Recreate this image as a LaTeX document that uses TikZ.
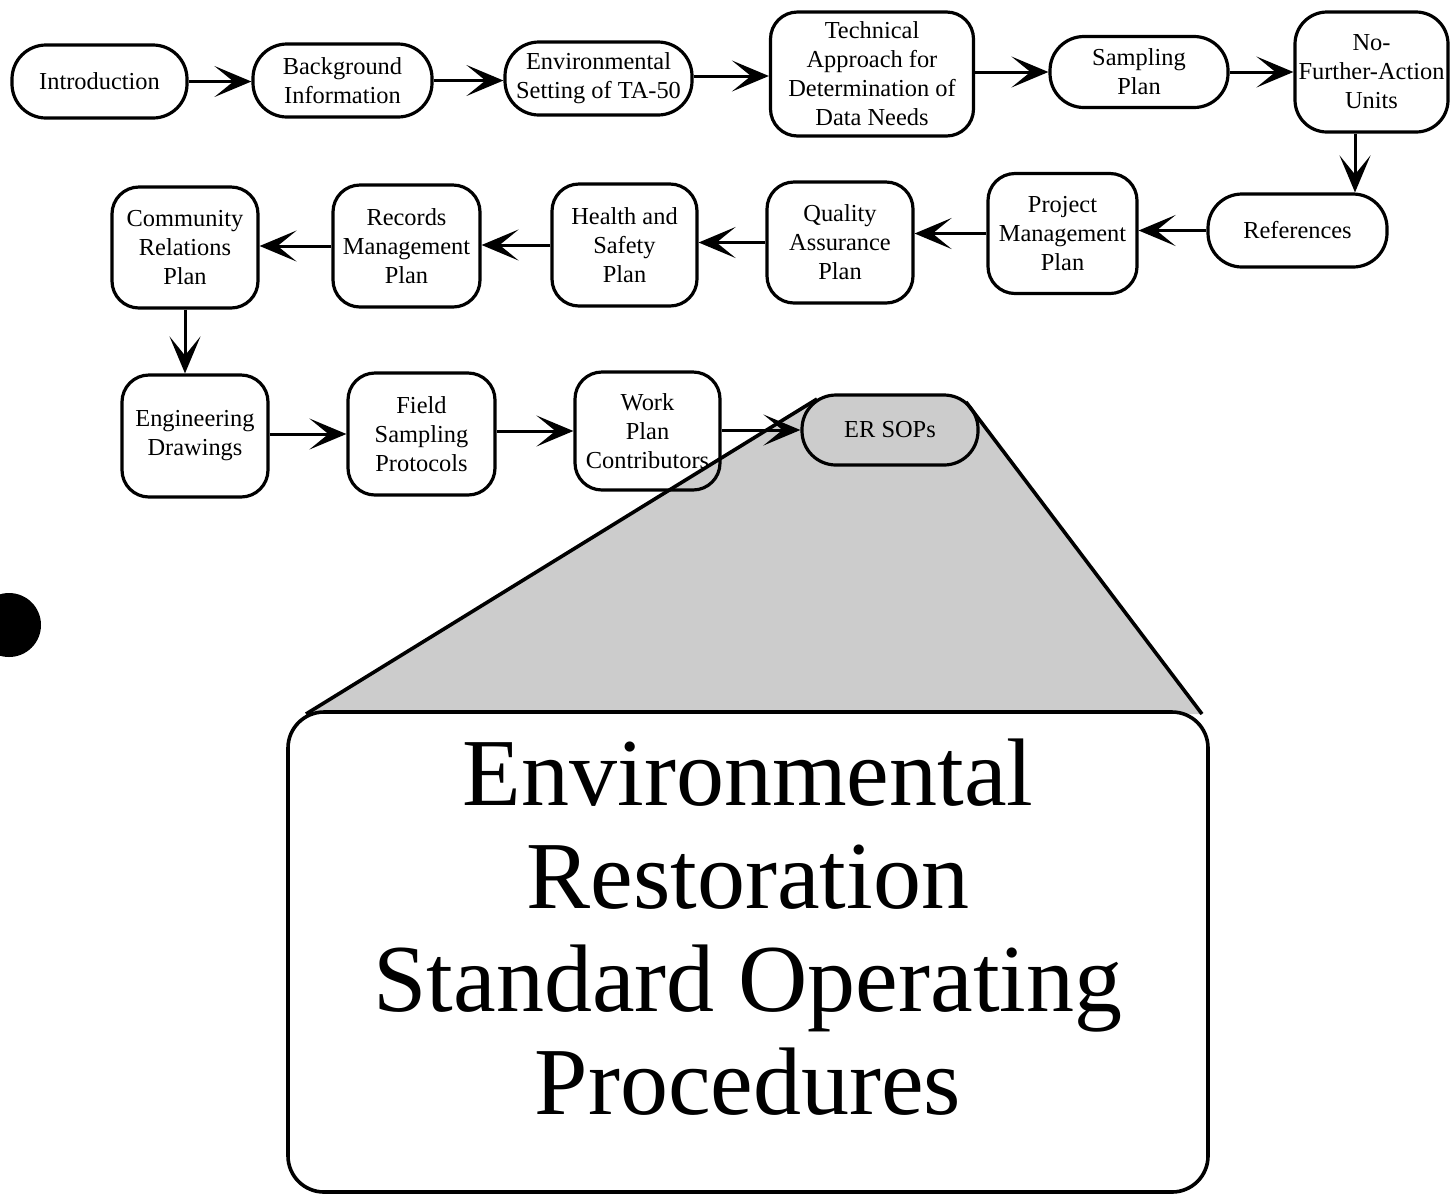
\documentclass[tikz,border=0pt]{standalone}
\usepackage{fontspec}
\setmainfont{Liberation Serif}
\usetikzlibrary{arrows.meta}
\newdimen\pxu \pxu=0.5pt
\begin{document}
\begin{tikzpicture}[x=0.5pt,y=-0.5pt,
  box/.style={draw, line width=1.6pt, align=center, inner sep=0pt,
    font=\fontsize{12.2}{14.5}\selectfont},
  sz/.style 2 args={minimum width=#1\pxu, minimum height=#2\pxu},
  pill/.style={box, rounded corners=34\pxu},
  rbox/.style={box, rounded corners=27\pxu},
  arr/.style={line width=1.5pt, -{Stealth[length=18.5pt,width=15.5pt,inset=9.5pt]}},
  edge/.style={line width=1.8pt, line join=round},
  shade/.style={fill=black!20}]
\useasboundingbox (0,0) rectangle (1450,1196);

% hole punch mark
\fill (9,625) circle (16pt);

% shaded zoom region
\coordinate (zl) at (306,714);
\coordinate (zlt) at (817,399);
\coordinate (zrt) at (966,402);
\coordinate (zr) at (1202,714);
\fill[shade] (zl) -- (zlt) -- (830,395) -- (950,395) -- (zrt) -- (zr) -- cycle;

% row 1
\node[pill, sz={175}{73}] (intro) at (99.5,81.5) {Introduction};
\node[pill, sz={179}{73}] (bg) at (342.5,80.5) {Background\\Information};
\node[pill, sz={187}{73}] (env) at (598.5,78.5) {Environmental\\Setting of TA-50};
\node[rbox, sz={203}{124}] (tech) at (872,74) {Technical\\Approach for\\Determination of\\Data Needs};
\node[pill, sz={178}{71}] (samp) at (1139,72) {Sampling\\Plan};
\node[rbox, sz={153}{120}, rounded corners=32\pxu] (nfa) at (1371.5,72) {No-\\Further-Action\\Units};

% row 2
\node[pill, sz={179}{73}] (ref) at (1297.5,230.5) {References};
\node[rbox, sz={149}{120}] (pm) at (1062.5,233.5) {Project\\Management\\Plan};
\node[rbox, sz={146}{121}] (qa) at (840,242.5) {Quality\\Assurance\\Plan};
\node[rbox, sz={145}{122}] (hs) at (624.5,245) {Health and\\Safety\\Plan};
\node[rbox, sz={147}{122}] (rm) at (406.5,246) {Records\\Management\\Plan};
\node[rbox, sz={146}{121}] (cr) at (185,247.5) {Community\\Relations\\Plan};

% row 3
\node[rbox, sz={146}{122}] (eng) at (195,436) {Engineering\\Drawings};
\node[rbox, sz={147}{122}] (fsp) at (421.5,434) {Field\\Sampling\\Protocols};
\node[rbox, sz={145}{118}] (wp) at (647.5,431) {Work\\Plan\\Contributors};
\node[pill, sz={176}{70}, shade] (er) at (890,430) {ER SOPs};

% big box
\node[draw, line width=1.8pt, rounded corners=36\pxu, sz={920}{480}, fill=white] (big) at (748,952) {};
\node[anchor=base, align=center, inner sep=0pt, font=\fontsize{48}{51.5}\selectfont] (bigtext) at (748,1114)
  {Environmental\\Restoration\\Standard Operating\\Procedures};

% zoom edges
\draw[edge] (zl) -- (zlt);
\draw[edge] (zrt) -- (zr);

% connectors
\coordinate (nfax) at (1355,0);
\coordinate (row1y) at (0,76);
\draw[arr] (intro.east) -- (intro.east -| bg.west);
\draw[arr] (bg.east) -- (bg.east -| env.west);
\draw[arr] (env.east |- row1y) -- (tech.west |- row1y);
\draw[arr] (tech.east |- samp.west) -- (samp.west);
\draw[arr] (samp.east) -- (samp.east -| nfa.west);
\draw[arr] (nfa.south -| nfax) -- (ref.north -| nfax);
\draw[arr] (ref.west) -- (ref.west -| pm.east);
\draw[arr] (pm.west) -- (pm.west -| qa.east);
\draw[arr] (qa.west) -- (qa.west -| hs.east);
\draw[arr] (hs.west) -- (hs.west -| rm.east);
\draw[arr] (rm.west) -- (rm.west -| cr.east);
\draw[arr] (cr.south) -- (cr.south |- eng.north);
\draw[arr] (eng.east |- fsp.west) -- (fsp.west);
\draw[arr] (fsp.east |- wp.west) -- (wp.west);
\draw[arr] (wp.east |- er.west) -- (er.west);
\end{tikzpicture}
\end{document}
